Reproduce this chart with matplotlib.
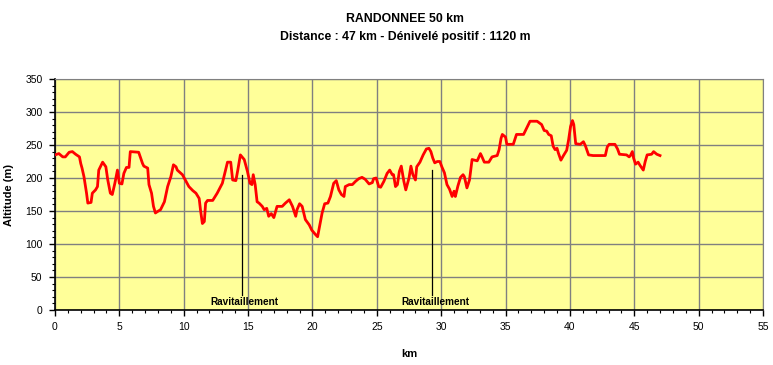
import matplotlib
matplotlib.use("Agg")
import matplotlib.pyplot as plt
from matplotlib.ticker import MultipleLocator

plt.rcParams['font.family'] = ['Liberation Sans', 'DejaVu Sans']

# Profile (km, altitude m)
km = [0, 0.3, 0.6, 0.8, 1.1, 1.35, 1.6, 1.9, 2.0, 2.1, 2.25, 2.45, 2.55, 2.8, 2.9,
      3.15, 3.3, 3.4, 3.7, 3.95, 4.1, 4.3, 4.45, 4.65, 4.85, 5.0, 5.2, 5.35, 5.55,
      5.75, 5.85, 6.5, 6.8, 6.9, 7.2, 7.3, 7.5, 7.65, 7.8, 7.95, 8.2, 8.5, 8.75,
      9.0, 9.2, 9.4, 9.5, 9.9, 10.15, 10.4, 10.7, 10.95, 11.2, 11.3, 11.45, 11.6,
      11.7, 11.85, 12.25, 12.6, 13.0, 13.4, 13.65, 13.8, 14.05, 14.2, 14.4,
      14.7, 14.95, 15.15, 15.3, 15.4, 15.55, 15.7, 15.85, 16.1, 16.25, 16.45, 16.6,
      16.8, 17.0, 17.25, 17.65, 17.9, 18.2, 18.45, 18.7, 18.8, 19.0, 19.2, 19.45,
      19.75, 19.95, 20.25, 20.4, 20.6, 20.75, 20.95, 21.2, 21.4, 21.65, 21.85,
      22.05, 22.25, 22.45, 22.55, 22.85, 23.1, 23.35, 23.6, 23.85, 24.1, 24.4,
      24.65, 24.75, 24.95, 25.15, 25.3, 25.55, 25.8, 26.0, 26.2, 26.3, 26.45,
      26.6, 26.75, 26.9, 27.1, 27.25, 27.5, 27.65, 27.8, 28.0, 28.1, 28.35, 28.6,
      28.85, 29.05, 29.2, 29.35, 29.5, 29.7, 29.9, 30.05, 30.25, 30.45, 30.65,
      30.85, 31.0, 31.1, 31.3, 31.5, 31.7, 31.8, 32.0, 32.2, 32.4, 32.8,
      33.05, 33.15, 33.35, 33.7, 33.95, 34.35, 34.5, 34.65, 34.75, 35.0, 35.1,
      35.6, 35.85, 36.4, 36.65, 36.9, 37.45, 37.8, 38.0, 38.2, 38.35, 38.55, 38.7,
      38.85, 39.0, 39.1, 39.3, 39.5, 39.75, 39.9, 40.05, 40.2, 40.3, 40.45, 40.8,
      41.05, 41.2, 41.45, 41.8, 42.75, 42.9, 43.05, 43.5, 43.7, 43.85, 44.4, 44.6,
      44.7, 44.85, 44.95, 45.1, 45.3, 45.45, 45.7, 45.85, 46.0, 46.35, 46.5,
      46.75, 47.0]
alt = [235, 237, 232, 232, 239, 240, 236, 232, 222, 215, 202, 177, 162, 163, 177,
       182, 187, 212, 224, 217, 197, 177, 175, 192, 212, 192, 191, 207, 216,
       216, 240, 239, 222, 218, 215, 190, 177, 157, 147, 149, 152, 164, 187,
       202, 220, 217, 212, 205, 196, 187, 181, 177, 169, 152, 131, 134,
       162, 166, 166, 177, 192, 224, 224, 197, 196, 212, 235,
       228, 210, 192, 190, 205, 190, 164, 162, 157, 152, 154, 142,
       146, 140, 157, 157, 162, 167, 157, 142, 152, 161, 157, 137,
       129, 121, 114, 111, 132, 147, 161, 162, 172, 192, 196,
       182, 175, 172, 187, 190, 190, 195, 199, 201, 198, 191,
       193, 199, 200, 187, 186, 195, 207, 212, 205, 205, 187,
       190, 210, 218, 195, 182, 200, 218, 205, 197, 217, 224, 235,
       244, 245, 240, 230, 223, 225, 225, 217, 208, 190, 183,
       172, 180, 172, 188, 201, 205, 202, 185, 197, 228, 226,
       237, 233, 224, 224, 232, 234, 243, 260, 266, 262, 251,
       251, 266, 266, 276, 286, 286, 281, 272, 271, 266, 264, 248,
       243, 245, 238, 227, 234, 242, 258, 278, 287, 281, 252, 251,
       255, 249, 235, 234, 234, 247, 251, 251, 244, 236, 235, 232,
       234, 240, 230, 221, 224, 219, 212, 225, 235, 236, 240,
       236, 234]

# Supply points
ravito_km = [14.5, 29.3]
ravito_top = [205, 212]
ravito_label = "Ravitaillement"

title = "RANDONNEE 50 km\nDistance : 47 km - Dénivelé positif : 1120 m"

fig = plt.figure(figsize=(7.73, 3.65), dpi=100)
ax = fig.add_axes([55 / 773, 55 / 365, 708 / 773, 231 / 365])
ax.set_facecolor('#FFFF99')

ax.plot(km, alt, color='#FF0000', lw=2.0, zorder=3)

for x, top in zip(ravito_km, ravito_top):
    ax.plot([x, x], [22, top], color='black', lw=0.9, zorder=4)
    ax.text(x + 0.25, 4, ravito_label, ha='center', va='bottom',
            fontsize=7.2, fontweight='bold', zorder=5)

ax.set_xlim(0, 55)
ax.set_ylim(0, 350)
ax.xaxis.set_major_locator(MultipleLocator(5))
ax.xaxis.set_minor_locator(MultipleLocator(1))
ax.yaxis.set_major_locator(MultipleLocator(50))
ax.yaxis.set_minor_locator(MultipleLocator(10))
ax.grid(True, which='major', color='#808080', lw=1.0, zorder=1)
ax.set_axisbelow(True)

ax.tick_params(which='major', direction='out', length=4, width=1, labelsize=7.5, pad=5)
ax.tick_params(which='minor', direction='out', length=2, width=0.8)
for side in ['top', 'right']:
    ax.spines[side].set_color('#808080')
for side in ['left', 'bottom']:
    ax.spines[side].set_linewidth(1.2)

ax.set_xlabel("km", fontsize=8, fontweight='bold', labelpad=12)
ax.set_ylabel("Altitude (m)", fontsize=8, fontweight='bold', labelpad=8)

fig.text(405 / 773, 1 - 28 / 365, title, ha='center', va='center',
         fontsize=8.8, fontweight='bold', linespacing=1.75)

fig.savefig("out.png", dpi=100)
